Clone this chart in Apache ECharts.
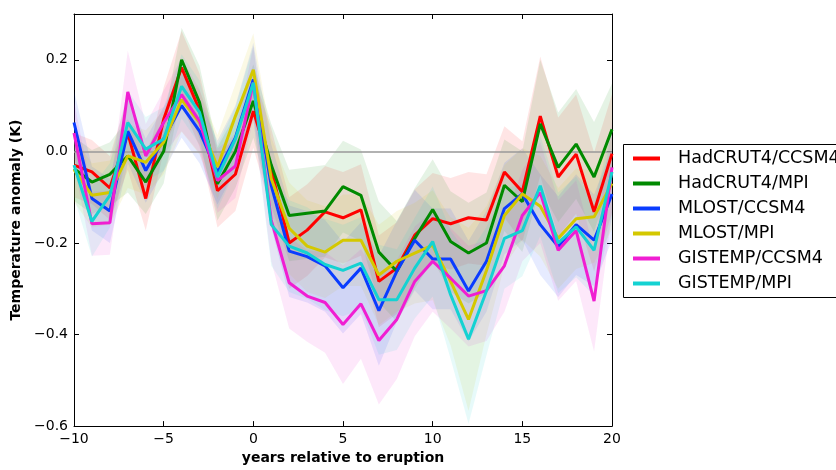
<!DOCTYPE html>
<html>
<head>
<meta charset="utf-8">
<script src="https://cdn.jsdelivr.net/npm/echarts@6/dist/echarts.min.js"></script>
<style>
  html, body { margin: 0; padding: 0; background: #fff; }
  #chart { width: 836px; height: 470px; }
</style>
</head>
<body>
<div id="chart"></div>
<script>
// Years relative to the eruption
const years = [-10,-9,-8,-7,-6,-5,-4,-3,-2,-1,0,1,2,3,4,5,6,7,8,9,10,11,12,13,14,15,16,17,18,19,20];

// Composite temperature anomaly (K) per observation/model pairing
const hadcrutCcsm4 = [-0.03,-0.045,-0.08,0.04,-0.103,0.07,0.183,0.09,-0.086,-0.05,0.088,-0.04,-0.2,-0.172,-0.132,-0.145,-0.128,-0.284,-0.255,-0.183,-0.147,-0.158,-0.145,-0.15,-0.045,-0.088,0.077,-0.056,-0.006,-0.132,-0.005];
const hadcrutMpi   = [-0.038,-0.067,-0.05,-0.01,-0.067,0.0,0.2,0.107,-0.071,0.0,0.11,-0.03,-0.14,-0.135,-0.13,-0.077,-0.096,-0.22,-0.262,-0.19,-0.127,-0.197,-0.222,-0.2,-0.074,-0.11,0.06,-0.035,0.016,-0.056,0.048];
const mlostCcsm4   = [0.063,-0.103,-0.13,0.044,-0.042,0.027,0.1,0.044,-0.046,0.03,0.157,-0.075,-0.218,-0.23,-0.25,-0.298,-0.255,-0.348,-0.262,-0.194,-0.235,-0.235,-0.305,-0.24,-0.125,-0.093,-0.16,-0.208,-0.16,-0.194,-0.093];
const mlostMpi     = [-0.04,-0.096,-0.09,-0.01,-0.024,0.02,0.113,0.063,-0.034,0.077,0.178,-0.06,-0.168,-0.207,-0.22,-0.194,-0.194,-0.27,-0.24,-0.222,-0.205,-0.284,-0.367,-0.26,-0.14,-0.093,-0.12,-0.19,-0.147,-0.143,-0.07];
const gistempCcsm4 = [0.04,-0.158,-0.156,0.13,-0.01,0.063,0.124,0.066,-0.064,-0.032,0.15,-0.15,-0.287,-0.316,-0.33,-0.378,-0.333,-0.413,-0.367,-0.284,-0.24,-0.277,-0.316,-0.304,-0.25,-0.14,-0.09,-0.216,-0.173,-0.327,-0.035];
const gistempMpi   = [-0.03,-0.153,-0.096,0.063,0.005,0.027,0.142,0.085,-0.056,0.027,0.15,-0.16,-0.207,-0.222,-0.247,-0.26,-0.244,-0.324,-0.324,-0.255,-0.197,-0.313,-0.41,-0.305,-0.19,-0.173,-0.075,-0.2,-0.165,-0.216,-0.045];

// Half-width of the uncertainty envelope around each composite
const hadcrutCcsm4Spread = [0.07,0.07,0.07,0.08,0.07,0.07,0.08,0.08,0.08,0.08,0.08,0.09,0.10,0.10,0.10,0.10,0.10,0.10,0.10,0.10,0.10,0.10,0.10,0.10,0.10,0.11,0.13,0.13,0.13,0.13,0.13];
const hadcrutMpiSpread   = [0.07,0.07,0.07,0.08,0.07,0.07,0.07,0.08,0.08,0.08,0.08,0.09,0.10,0.10,0.10,0.10,0.10,0.11,0.11,0.11,0.11,0.11,0.11,0.11,0.10,0.11,0.14,0.12,0.12,0.12,0.10];
const mlostCcsm4Spread   = [0.07,0.07,0.07,0.07,0.07,0.07,0.07,0.07,0.07,0.07,0.08,0.09,0.10,0.10,0.10,0.10,0.10,0.12,0.11,0.11,0.11,0.11,0.11,0.11,0.10,0.10,0.11,0.11,0.11,0.10,0.10];
const mlostMpiSpread     = [0.07,0.07,0.07,0.07,0.07,0.07,0.07,0.07,0.07,0.07,0.08,0.09,0.10,0.10,0.10,0.10,0.10,0.11,0.11,0.11,0.12,0.14,0.20,0.14,0.11,0.10,0.11,0.11,0.11,0.10,0.10];
const gistempCcsm4Spread = [0.07,0.07,0.07,0.09,0.07,0.07,0.08,0.07,0.07,0.07,0.08,0.09,0.10,0.10,0.11,0.13,0.12,0.14,0.13,0.12,0.11,0.11,0.11,0.11,0.10,0.10,0.11,0.11,0.11,0.11,0.10];
const gistempMpiSpread   = [0.07,0.077,0.07,0.07,0.07,0.07,0.07,0.07,0.07,0.07,0.08,0.09,0.10,0.10,0.10,0.10,0.10,0.12,0.11,0.11,0.12,0.14,0.185,0.14,0.11,0.10,0.11,0.11,0.11,0.10,0.10];

// Axis ticks
const xTicks = [-10,-5,0,5,10,15,20];
const yTicks = [-0.6,-0.4,-0.2,0.0,0.2];

const seriesDefs = [
  { name: 'HadCRUT4/CCSM4', values: hadcrutCcsm4, spread: hadcrutCcsm4Spread, color: '#ff0000' },
  { name: 'HadCRUT4/MPI',   values: hadcrutMpi,   spread: hadcrutMpiSpread,   color: '#008a00' },
  { name: 'MLOST/CCSM4',    values: mlostCcsm4,   spread: mlostCcsm4Spread,   color: '#0a3cff' },
  { name: 'MLOST/MPI',      values: mlostMpi,     spread: mlostMpiSpread,     color: '#d4c800' },
  { name: 'GISTEMP/CCSM4',  values: gistempCcsm4, spread: gistempCcsm4Spread, color: '#f01ed2' },
  { name: 'GISTEMP/MPI',    values: gistempMpi,   spread: gistempMpiSpread,   color: '#14d2d2' }
];

const FONT = 'DejaVu Sans';
const minus = s => String(s).replace('-', '\u2212');

const series = [];

// Shaded envelopes: one polygon per composite (upper edge, then lower edge back)
seriesDefs.forEach((d, i) => {
  const band = years.map((x, k) => [x, d.values[k] - d.spread[k], d.values[k] + d.spread[k]]);
  series.push({
    type: 'custom', name: 'band-' + i, coordinateSystem: 'cartesian2d',
    silent: true, z: 1, clip: true,
    encode: { x: 0, y: [1, 2] },
    data: band,
    renderItem: function (params, api) {
      if (params.dataIndex !== 0) return null;
      const upper = band.map(p => api.coord([p[0], p[2]]));
      const lower = band.map(p => api.coord([p[0], p[1]])).reverse();
      return {
        type: 'polygon',
        shape: { points: upper.concat(lower) },
        style: { fill: d.color, opacity: 0.1 }
      };
    }
  });
});

// Composite lines
seriesDefs.forEach((d, i) => {
  const s = {
    type: 'line', name: d.name,
    data: years.map((x, k) => [x, d.values[k]]),
    symbol: 'none',
    lineStyle: { color: d.color, width: 3 },
    itemStyle: { color: d.color },
    z: 3 + i
  };
  if (i === 0) {
    s.markLine = {
      silent: true, symbol: 'none', label: { show: false },
      lineStyle: { color: '#999', width: 1.5, type: 'solid' },
      data: [{ yAxis: 0 }], z: 2
    };
  }
  series.push(s);
});

const axisCommon = {
  axisLine: { show: true, onZero: false, lineStyle: { color: '#000', width: 1 } },
  splitLine: { show: false }
};

const option = {
  animation: false,
  backgroundColor: '#fff',
  textStyle: { fontFamily: FONT },
  grid: { left: 74, right: 224, top: 14, bottom: 40, containLabel: false },
  // Legend frame: open on the right, where it runs off the canvas
  graphic: [{
    type: 'polyline', z: 90, silent: true,
    shape: { points: [[900, 144.5], [623.5, 144.5], [623.5, 297.5], [900, 297.5]] },
    style: { fill: null, stroke: '#000', lineWidth: 1 }
  }],
  legend: {
    data: seriesDefs.map(d => d.name),
    orient: 'vertical',
    left: 623, top: 144, z: 100,
    icon: 'rect',
    itemWidth: 27, itemHeight: 4,
    itemGap: 0,
    padding: [2, 0, 2, 10],
    textStyle: { fontFamily: FONT, fontSize: 17.5, color: '#000', lineHeight: 25, padding: [0, 0, 0, 13] }
  },
  xAxis: [
    Object.assign({}, axisCommon, {
      type: 'value', min: -10, max: 20, interval: 5, position: 'bottom',
      name: 'years relative to eruption', nameLocation: 'middle', nameGap: 24,
      nameTextStyle: { fontFamily: FONT, fontSize: 14, fontWeight: 'bold', color: '#000' },
      axisTick: { show: true, inside: true, length: 5, lineStyle: { color: '#000' }, customValues: xTicks },
      axisLabel: { show: true, margin: 6, fontFamily: FONT, fontSize: 14, color: '#000', customValues: xTicks, formatter: v => minus(v) }
    }),
    Object.assign({}, axisCommon, {
      type: 'value', min: -10, max: 20, interval: 5, position: 'top',
      axisTick: { show: true, inside: true, length: 5, lineStyle: { color: '#000' }, customValues: xTicks },
      axisLabel: { show: false }
    })
  ],
  yAxis: [
    Object.assign({}, axisCommon, {
      type: 'value', min: -0.6, max: 0.3, position: 'left',
      name: 'Temperature anomaly (K)', nameLocation: 'middle', nameGap: 47, nameRotate: 90,
      nameTextStyle: { fontFamily: FONT, fontSize: 14, fontWeight: 'bold', color: '#000' },
      axisTick: { show: true, inside: true, length: 5, lineStyle: { color: '#000' }, customValues: yTicks },
      axisLabel: { show: true, margin: 6, fontFamily: FONT, fontSize: 14, color: '#000', customValues: yTicks, formatter: v => minus(v.toFixed(1)) }
    }),
    Object.assign({}, axisCommon, {
      type: 'value', min: -0.6, max: 0.3, position: 'right',
      axisTick: { show: true, inside: true, length: 5, lineStyle: { color: '#000' }, customValues: yTicks },
      axisLabel: { show: false }
    })
  ],
  series: series
};

const chart = echarts.init(document.getElementById('chart'), null, { renderer: 'canvas' });
chart.setOption(option);
</script>
</body>
</html>
